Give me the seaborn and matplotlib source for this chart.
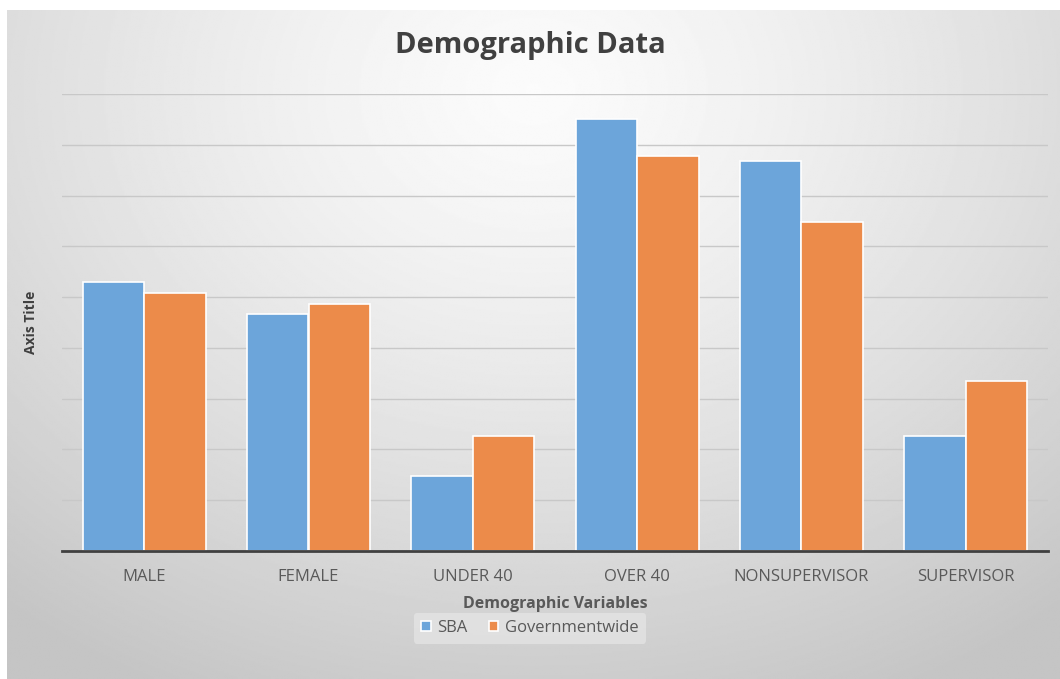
import numpy as np
import pandas as pd
import matplotlib
matplotlib.use("Agg")
import matplotlib.pyplot as plt
import seaborn as sns

categories = ["MALE", "FEMALE", "UNDER 40", "OVER 40", "NONSUPERVISOR", "SUPERVISOR"]
sba = [53.0, 46.6, 14.7, 85.0, 76.9, 22.6]
governmentwide = [50.9, 48.7, 22.6, 77.8, 64.7, 33.5]
series_names = ["SBA", "Governmentwide"]
colors = ["#6ca5da", "#ec8b4a"]

df = pd.DataFrame({
    "category": categories * 2,
    "value": sba + governmentwide,
    "series": [series_names[0]] * len(categories) + [series_names[1]] * len(categories),
})

sns.set_theme(style="white")
plt.rcParams["font.family"] = ["Open Sans", "DejaVu Sans"]

W, H = 1060, 679
fig = plt.figure(figsize=(W / 100, H / 100), dpi=100)
fig.patch.set_facecolor("white")

# soft radial background panel
bg = fig.add_axes([7 / W, 0, 1 - 7 / W, 1 - 10 / H], zorder=-10)
yy, xx = np.mgrid[0:1:400j, 0:1:600j]
d = np.sqrt(((xx - 0.5) / 0.75) ** 2 + ((yy - 0.12) / 0.95) ** 2)
shade = np.clip(0.985 - 0.2 * d ** 1.3, 0.77, 1.0)
bg.imshow(shade, cmap="gray", vmin=0, vmax=1, aspect="auto", extent=[0, 1, 1, 0])
bg.set_axis_off()

ax = fig.add_axes([62 / W, 1 - 551 / H, (1048 - 62) / W, (551 - 94) / H])
ax.patch.set_alpha(0)
sns.barplot(data=df, x="category", y="value", hue="series", palette=colors,
            saturation=1, width=0.75, edgecolor="white", linewidth=1.2, ax=ax,
            legend=True, zorder=3)

ax.set_ylim(0, 90)
ax.set_yticks(np.arange(0, 91, 10))
ax.set_yticklabels([])
ax.yaxis.grid(True, color="#c8c8c8", linewidth=1.0, zorder=0)
ax.set_axisbelow(True)
for s in ["top", "right", "left"]:
    ax.spines[s].set_visible(False)
ax.spines["bottom"].set_color("#404040")
ax.spines["bottom"].set_linewidth(2)
ax.spines["bottom"].set_zorder(5)
ax.tick_params(axis="both", length=0)
ax.tick_params(axis="x", labelsize=12, labelcolor="#595959", pad=13)
ax.set_xlabel("Demographic Variables", fontsize=11.5, fontweight="bold", color="#595959", labelpad=8)
ax.set_ylabel("Axis Title", fontsize=10, fontweight="bold", color="#404040", labelpad=14)

fig.text(0.5, 1 - 45 / H, "Demographic Data", ha="center", va="center",
         fontsize=21, fontweight="bold", color="#404040")

handles, labels = ax.get_legend_handles_labels()
ax.get_legend().remove()
leg = fig.legend(handles, labels, loc="center", bbox_to_anchor=(0.5, 1 - 628 / H),
                 ncol=2, frameon=True, fontsize=12, handlelength=0.55, handleheight=0.55,
                 handletextpad=0.4, columnspacing=1.3, borderpad=0.45)
leg.get_frame().set_facecolor("#e6e6e6")
leg.get_frame().set_edgecolor("none")
leg.get_frame().set_alpha(0.7)
for t in leg.get_texts():
    t.set_color("#595959")

fig.savefig("out.png", dpi=100)
